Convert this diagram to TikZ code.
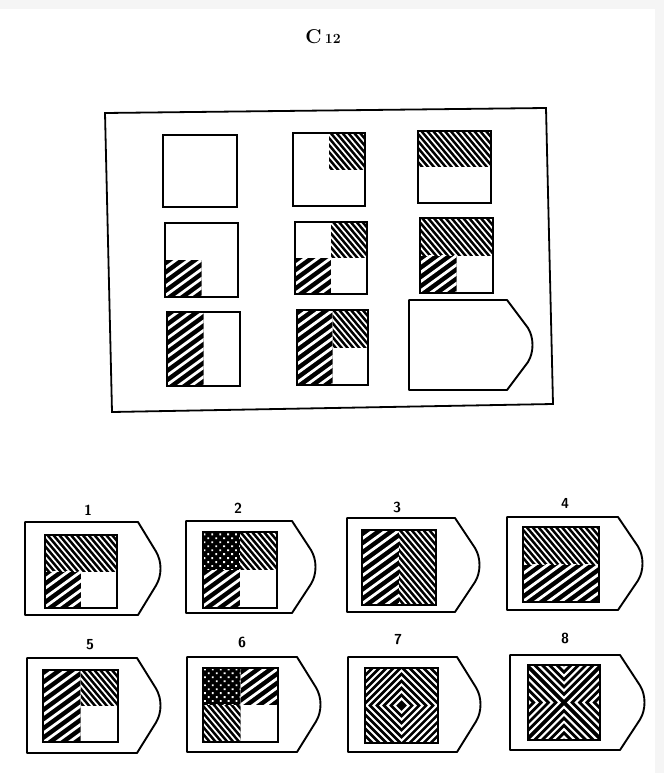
\documentclass[tikz,border=0pt]{standalone}
\usepackage{fontspec}
\begin{document}
\begin{tikzpicture}[x=1pt,y=-1pt,
  cellbox/.style={draw=black,line width=2.3pt},
  frameline/.style={draw=black,line width=1.8pt},
  tagline/.style={draw=black,line width=1.9pt,line join=round},
  numlabel/.style={font=\sffamily\bfseries\fontsize{14.5}{14.5}\selectfont},
  titlelabel/.style={font=\bfseries\fontsize{20}{20}\selectfont}]
\newcommand{\hreg}[9]{%
  \begin{scope}
  \clip (#1,#2) rectangle (#3,#4);
  \fill[black] (#1,#2) rectangle (#3,#4);
  \begin{scope}[shift={(#5,#6)},rotate=#7]
  \foreach \k in {-24,...,24}{\draw[white,line width=#9pt] (-90,{\k*#8}) -- (90,{\k*#8});}
  \end{scope}
  \end{scope}}
\newcommand{\fineH}[6]{\hreg{#1}{#2}{#3}{#4}{#5}{#6}{-50}{4.5}{1.7}}
\newcommand{\thickH}[6]{\hreg{#1}{#2}{#3}{#4}{#5}{#6}{36}{7.5}{2.8}}
\newcommand{\dotreg}[6]{%
  \begin{scope}
  \clip (#1,#2) rectangle (#3,#4);
  \fill[black] (#1,#2) rectangle (#3,#4);
  \begin{scope}[shift={(#5,#6)},rotate=45]
  \foreach \i in {-9,...,9}{\foreach \j in {-9,...,9}{\fill[white] ({\i*5.6},{\j*5.6}) circle (1.3);}}
  \end{scope}
  \end{scope}}
\newcommand{\pentag}[5]{%
  \draw[tagline] (#1,#2) -- (#3,#2) -- ({#4-7},{(#2+#5)/2-17})
    .. controls ({#4-1},{(#2+#5)/2-7}) and ({#4-1},{(#2+#5)/2+7}) .. ({#4-7},{(#2+#5)/2+17})
    -- (#3,#5) -- (#1,#5) -- cycle;}
% page
\fill[gray!8] (0,0) rectangle (664,773);
\fill[white] (0,9) rectangle (655,773);
\useasboundingbox (0,0) rectangle (664,773);
% title
\node[titlelabel] (title) at (323,37) {C\,{\fontsize{14}{14}\selectfont 12}};
% main frame
\draw[frameline] (105,113) -- (546,108) -- (553,404) -- (112,412) -- cycle;
% matrix hatching
\fineH{329}{133}{365}{169.5}{329}{169.5}
\fineH{418}{131}{491}{167}{454.5}{167}
\thickH{165}{260}{201.5}{297}{201.5}{260}
\fineH{331}{222}{367}{258}{331}{258}
\thickH{295}{258}{331}{294}{331}{258}
\fineH{420}{218}{493}{255.5}{456.5}{255.5}
\thickH{420}{255.5}{456.5}{293}{456.5}{255.5}
\thickH{167}{312}{203.5}{386}{203.5}{349}
\thickH{297}{310}{332.5}{385}{332.5}{347.5}
\fineH{332.5}{310}{368}{347.5}{332.5}{347.5}
% matrix cells
\draw[cellbox] (163,135) rectangle (237,207);
\draw[cellbox] (293,133) rectangle (365,206);
\draw[cellbox] (418,131) rectangle (491,203);
\draw[cellbox] (165,223) rectangle (238,297);
\draw[cellbox] (295,222) rectangle (367,294);
\draw[cellbox] (420,218) rectangle (493,293);
\draw[cellbox] (167,312) rectangle (240,386);
\draw[cellbox] (297,310) rectangle (368,385);
\pentag{409}{300}{507}{535}{390}
% answer tags
\pentag{25}{522}{138}{163}{615}
\pentag{186}{521}{292}{318}{613}
\pentag{347}{518}{455}{482}{612}
\pentag{507}{517}{618}{645}{610}
\pentag{27}{658}{137}{163}{753}
\pentag{187}{657}{297}{323}{752}
\pentag{348}{657}{457}{483}{752}
\pentag{510}{655}{620}{647}{750}
% labels
\node[numlabel] (l1) at (88,510) {1};
\node[numlabel] (l2) at (238,508) {2};
\node[numlabel] (l3) at (397,507) {3};
\node[numlabel] (l4) at (565,503) {4};
\node[numlabel] (l5) at (90,645) {5};
\node[numlabel] (l6) at (242,642) {6};
\node[numlabel] (l7) at (398,640) {7};
\node[numlabel] (l8) at (565,638) {8};
% option 1
\fineH{45}{535}{117}{571.5}{81}{571.5}
\thickH{45}{571.5}{81}{608}{81}{571.5}
\draw[cellbox] (45,535) rectangle (117,608);
% option 2
\dotreg{203}{532}{240}{570}{240}{570}
\fineH{240}{532}{277}{570}{240}{570}
\thickH{203}{570}{240}{608}{240}{570}
\draw[cellbox] (203,532) rectangle (277,608);
% option 3
\thickH{362}{530}{399}{605}{399}{567.5}
\fineH{399}{530}{436}{605}{399}{567.5}
\draw[cellbox] (362,530) rectangle (436,605);
% option 4
\fineH{523}{527}{599}{564.5}{561}{564.5}
\thickH{523}{564.5}{599}{602}{561}{564.5}
\draw[cellbox] (523,527) rectangle (599,602);
% option 5
\thickH{43}{670}{80.5}{742}{80.5}{706}
\fineH{80.5}{670}{118}{706}{80.5}{706}
\draw[cellbox] (43,670) rectangle (118,742);
% option 6
\dotreg{203}{668}{240.5}{705}{240.5}{705}
\thickH{240.5}{668}{278}{705}{240.5}{705}
\fineH{203}{705}{240.5}{742}{240.5}{705}
\draw[cellbox] (203,668) rectangle (278,742);
% option 7: concentric diamonds
\begin{scope}
  \clip (365,668) rectangle (438,743);
  \fill[black] (365,668) rectangle (438,743);
  \begin{scope}[shift={(401.5,705.5)}]
  \foreach \k in {1,...,11}{\draw[white,line width=2.1pt] ({-\k*7},0) -- (0,{-\k*7}) -- ({\k*7},0) -- (0,{\k*7}) -- cycle;}
  \end{scope}
\end{scope}
\draw[cellbox] (365,668) rectangle (438,743);
% option 8: X pattern
\begin{scope}
  \clip (528,665) rectangle (600,740);
  \fill[black] (528,665) rectangle (600,740);
  \begin{scope}[shift={(564,702.5)}]
  \foreach \k in {0,...,9}{
    \pgfmathsetmacro{\c}{(\k+0.6)*7.4}
    \draw[white,line width=2.1pt] ({\c+60},-60) -- (\c,0) -- ({\c+60},60);
    \draw[white,line width=2.1pt] ({-\c-60},-60) -- (-\c,0) -- ({-\c-60},60);
    \draw[white,line width=2.1pt] (-60,{-\c-60}) -- (0,-\c) -- (60,{-\c-60});
    \draw[white,line width=2.1pt] (-60,{\c+60}) -- (0,\c) -- (60,{\c+60});
  }
  \end{scope}
\end{scope}
\draw[cellbox] (528,665) rectangle (600,740);
\end{tikzpicture}
\end{document}
